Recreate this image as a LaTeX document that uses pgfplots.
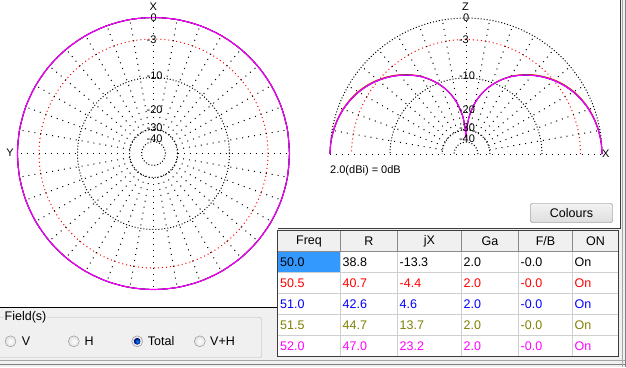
\documentclass[border=0pt]{standalone}
\usepackage{pgfplots}
\pgfplotsset{compat=1.18}
\usepgfplotslibrary{polar}
\usepackage{pgfplotstable}
\usepackage{fontspec}
\setmainfont{Liberation Sans}
\definecolor{winbg}{HTML}{F0F0F0}
\definecolor{olivec}{HTML}{808000}
\definecolor{selblue}{HTML}{3399FF}
\definecolor{magc}{HTML}{FF00FF}
\definecolor{hdrline}{HTML}{8A8A8A}
\definecolor{gridc}{HTML}{CFCFCF}
\definecolor{frame}{HTML}{3C3C3C}

% azimuth pattern (angle, ARRL-scaled radius) for the five frequencies
\pgfplotstableread{
a rk rr rb ro rm
0 1.000 1.000 1.000 1.000 1.000
10 1.000 1.000 1.000 1.000 1.000
20 1.000 1.000 1.000 1.000 1.000
30 1.000 1.000 1.000 1.000 1.000
40 1.000 1.000 1.000 1.000 1.000
50 1.000 1.000 1.000 1.000 1.000
60 1.000 1.000 1.000 1.000 1.000
70 1.000 1.000 1.000 1.000 1.000
80 1.000 1.000 1.000 1.000 1.000
90 1.000 1.000 1.000 1.000 1.000
100 1.000 1.000 1.000 1.000 1.000
110 1.000 1.000 1.000 1.000 1.000
120 1.000 1.000 1.000 1.000 1.000
130 1.000 1.000 1.000 1.000 1.000
140 1.000 1.000 1.000 1.000 1.000
150 1.000 1.000 1.000 1.000 1.000
160 1.000 1.000 1.000 1.000 1.000
170 1.000 1.000 1.000 1.000 1.000
180 1.000 1.000 1.000 1.000 1.000
190 1.000 1.000 1.000 1.000 1.000
200 1.000 1.000 1.000 1.000 1.000
210 1.000 1.000 1.000 1.000 1.000
220 1.000 1.000 1.000 1.000 1.000
230 1.000 1.000 1.000 1.000 1.000
240 1.000 1.000 1.000 1.000 1.000
250 1.000 1.000 1.000 1.000 1.000
260 1.000 1.000 1.000 1.000 1.000
270 1.000 1.000 1.000 1.000 1.000
280 1.000 1.000 1.000 1.000 1.000
290 1.000 1.000 1.000 1.000 1.000
300 1.000 1.000 1.000 1.000 1.000
310 1.000 1.000 1.000 1.000 1.000
320 1.000 1.000 1.000 1.000 1.000
330 1.000 1.000 1.000 1.000 1.000
340 1.000 1.000 1.000 1.000 1.000
350 1.000 1.000 1.000 1.000 1.000
360 1.000 1.000 1.000 1.000 1.000
}\azim

% elevation pattern (elevation angle, ARRL-scaled radius)
\pgfplotstableread{
a rk rr rb ro rm
0 1.000 1.000 1.000 1.000 1.000
5 0.997 0.998 0.997 0.998 0.997
10 0.989 0.991 0.989 0.990 0.989
15 0.977 0.980 0.977 0.979 0.977
20 0.960 0.964 0.960 0.962 0.960
25 0.938 0.943 0.938 0.941 0.938
30 0.911 0.917 0.911 0.915 0.911
35 0.879 0.885 0.879 0.883 0.879
40 0.842 0.848 0.842 0.846 0.842
45 0.800 0.806 0.800 0.804 0.800
50 0.755 0.761 0.755 0.759 0.755
55 0.707 0.712 0.707 0.710 0.707
60 0.656 0.660 0.656 0.659 0.656
65 0.598 0.601 0.598 0.600 0.598
70 0.535 0.538 0.535 0.537 0.535
75 0.464 0.466 0.464 0.465 0.464
80 0.382 0.383 0.382 0.383 0.382
85 0.280 0.281 0.280 0.280 0.280
88 0.190 0.190 0.190 0.190 0.190
90 0.130 0.130 0.130 0.130 0.130
92 0.190 0.190 0.190 0.190 0.190
95 0.280 0.281 0.280 0.280 0.280
100 0.382 0.383 0.382 0.383 0.382
105 0.464 0.466 0.464 0.465 0.464
110 0.535 0.538 0.535 0.537 0.535
115 0.598 0.601 0.598 0.600 0.598
120 0.656 0.660 0.656 0.659 0.656
125 0.707 0.712 0.707 0.710 0.707
130 0.755 0.761 0.755 0.759 0.755
135 0.800 0.806 0.800 0.804 0.800
140 0.842 0.848 0.842 0.846 0.842
145 0.879 0.885 0.879 0.883 0.879
150 0.911 0.917 0.911 0.915 0.911
155 0.938 0.943 0.938 0.941 0.938
160 0.960 0.964 0.960 0.962 0.960
165 0.977 0.980 0.977 0.979 0.977
170 0.989 0.991 0.989 0.990 0.989
175 0.997 0.998 0.997 0.998 0.997
180 1.000 1.000 1.000 1.000 1.000
}\elev

\tikzset{
 gk/.style={black, line width=1pt, line cap=butt, dash pattern=on 1pt off 2pt},
 gr/.style={red, line width=1pt, line cap=butt, dash pattern=on 1pt off 3pt},
 sp/.style={black, line width=1pt, line cap=butt, dash pattern=on 1pt off 5pt},
 lab/.style={font=\fontsize{11}{12}\selectfont, inner sep=0pt},
 tb/.style={font=\fontsize{12.5}{14}\selectfont, inner sep=0pt},
}
\pgfplotsset{polarplot/.style={scale only axis, width=272pt, height=272pt,
  xmin=-1, xmax=1, ymin=-1, ymax=1, hide axis, clip=false, anchor=south west},
  pat/.style={line width=0.8pt, data cs=polar, smooth},
  top/.style={line width=1.1pt, data cs=polar, smooth}}

\begin{document}
\begin{tikzpicture}
\path[use as bounding box] (0,0) rectangle (626pt,-367pt);
% ---------- backgrounds ----------
\begin{scope}[x=1pt,y=-1pt]
\fill[winbg] (0,0) rectangle (626,367);
\fill[white] (0,0) rectangle (620.5,228.5);
\fill[white] (0,0) rectangle (277.5,307.5);
\draw[black, line width=1pt] (0,307.5) -- (277.5,307.5);
\draw[frame, line width=1pt] (277.5,228.5) -- (620.5,228.5) -- (620.5,0);
\end{scope}
% ---------- left grid ----------
\begin{scope}[shift={(153.5pt,-153.5pt)}]
\draw[gk] (0,0) circle[radius=136pt];
\draw[gr] (0,0) circle[radius=114.5pt];
\draw[gk] (0,0) circle[radius=76pt];
\draw[gk] (0,0) circle[radius=24pt];
\draw[gk] (0,0) circle[radius=12pt];
\foreach \a in {0,10,...,350} \draw[sp] (\a:24pt) -- (\a:136pt);
\end{scope}
% ---------- right grid ----------
\begin{scope}[shift={(466pt,-154pt)}]
\draw[gk] (136pt,0) arc[start angle=0,end angle=180,radius=136pt];
\draw[gr] (114.5pt,0) arc[start angle=0,end angle=180,radius=114.5pt];
\draw[gk] (76pt,0) arc[start angle=0,end angle=180,radius=76pt];
\draw[gk] (24pt,0) arc[start angle=0,end angle=180,radius=24pt];
\draw[gk] (12pt,0) arc[start angle=0,end angle=180,radius=12pt];
\draw[sp] (-136pt,0) -- (136pt,0);
\foreach \a in {10,20,...,170} \draw[sp] (\a:24pt) -- (\a:136pt);
\end{scope}
% ---------- azimuth plot ----------
\begin{axis}[polarplot, at={(17.5pt,-289.5pt)}]
\addplot[pat, black] table[x=a,y=rk]{\azim};
\addplot[pat, red] table[x=a,y=rr]{\azim};
\addplot[pat, olivec] table[x=a,y=ro]{\azim};
\addplot[pat, blue] table[x=a,y=rb]{\azim};
\addplot[top, magc] table[x=a,y=rm]{\azim};
\end{axis}
% ---------- elevation plot ----------
\begin{axis}[polarplot, at={(330pt,-290pt)}]
\addplot[pat, black] table[x=a,y=rk]{\elev};
\addplot[pat, red] table[x=a,y=rr]{\elev};
\addplot[pat, olivec] table[x=a,y=ro]{\elev};
\addplot[pat, blue] table[x=a,y=rb]{\elev};
\addplot[top, magc] table[x=a,y=rm]{\elev};
\end{axis}
% ---------- labels and widgets ----------
\begin{scope}[x=1pt,y=-1pt]
% left plot labels
\node[lab] at (153.3,6.5) {X};
\node[lab] at (10,152.5) {Y};
\node[lab,anchor=west] at (150.5,17.5) {0};
\node[lab,anchor=west] at (146.5,39.5) {-3};
\node[lab,anchor=west] at (146.5,76) {-10};
\node[lab,anchor=west] at (146.5,109.5) {-20};
\node[lab,anchor=west] at (146.5,128) {-30};
\node[lab,anchor=west] at (146.5,139) {-40};
% right plot labels
\node[lab] at (465.5,6.5) {Z};
\node[lab] at (605.8,153.7) {X};
\node[lab,anchor=west] at (462.8,17.5) {0};
\node[lab,anchor=west] at (458.8,39.5) {-3};
\node[lab,anchor=west] at (458.8,76) {-10};
\node[lab,anchor=west] at (458.8,109.5) {-20};
\node[lab,anchor=west] at (458.8,128) {-30};
\node[lab,anchor=west] at (458.8,139) {-40};
\node[lab,anchor=west] at (330,170.5) {2.0(dBi) = 0dB};
% Colours button
\draw[rounded corners=2pt, draw=black!55, top color=white!95!black, bottom color=black!13] (530.5,203.5) rectangle (612.5,222.5);
\node[tb] at (571.5,213) {Colours};
% table
\fill[white!94!black] (277.5,230.5) rectangle (618.5,251.5);
\fill[white] (277.5,251.5) rectangle (618.5,356.5);
\fill[selblue] (277.5,251.5) rectangle (340.5,272.5);
\foreach \y in {272.5,293.5,314.5,335.5} \draw[gridc, line width=1pt] (277.5,\y) -- (618.5,\y);
\foreach \x in {340.5,397.5,461.5,518.5,572.5} {
  \draw[gridc, line width=1pt] (\x,251.5) -- (\x,356.5);
  \draw[hdrline, line width=1pt] (\x,230.5) -- (\x,251.5);
}
\draw[hdrline, line width=1pt] (277.5,251.5) -- (618.5,251.5);
\draw[frame, line width=1pt] (277.5,230.5) rectangle (618.5,356.5);
% header
\node[tb] at (309,241) {Freq};
\node[tb] at (369,241) {R};
\node[tb] at (429.5,241) {jX};
\node[tb] at (490,241) {Ga};
\node[tb] at (545.5,241) {F/B};
\node[tb] at (595.5,241) {ON};
% rows
\def\row#1#2#3#4#5#6#7#8{%
  \node[tb,anchor=west,text=#8] at (280,#1) {#2};
  \node[tb,anchor=west,text=#8] at (342.5,#1) {#3};
  \node[tb,anchor=west,text=#8] at (399.5,#1) {#4};
  \node[tb,anchor=west,text=#8] at (463.5,#1) {#5};
  \node[tb,anchor=west,text=#8] at (520.5,#1) {#6};
  \node[tb,anchor=west,text=#8] at (574.5,#1) {#7};}
\row{262}{50.0}{38.8}{-13.3}{2.0}{-0.0}{On}{black}
\row{283}{50.5}{40.7}{-4.4}{2.0}{-0.0}{On}{red}
\row{304}{51.0}{42.6}{4.6}{2.0}{-0.0}{On}{blue}
\row{325}{51.5}{44.7}{13.7}{2.0}{-0.0}{On}{olivec}
\row{346}{52.0}{47.0}{23.2}{2.0}{-0.0}{On}{magc}
% Field(s) group box
\draw[black!30, rounded corners=2pt] (-3,317.5) rectangle (261.5,357.5);
\node[tb,anchor=west,fill=winbg,inner sep=1pt] at (3.5,317.5) {Field(s)};
\foreach \cx/\lx/\t in {10.5/21.7/V, 73.8/84.3/H, 137.2/147.7/Total, 199.8/210/V+H} {
  \draw[black!45, inner color=white, outer color=black!12] (\cx,341.3) circle[radius=5.5];
  \node[tb,anchor=west] at (\lx,341.3) {\t};
}
\fill[blue!50!black, inner color=cyan!60!blue, outer color=blue!45!black] (137.2,341.3) circle[radius=3.2];
% window borders
\draw[black!35, line width=1pt] (0,360.5) -- (626,360.5);
\draw[black!50, line width=1pt] (0,364.5) -- (626,364.5);
\draw[black!35, line width=1pt] (622.5,0) -- (622.5,367);
\draw[black!50, line width=1pt] (625.5,0) -- (625.5,367);
\end{scope}
\end{tikzpicture}
\end{document}
